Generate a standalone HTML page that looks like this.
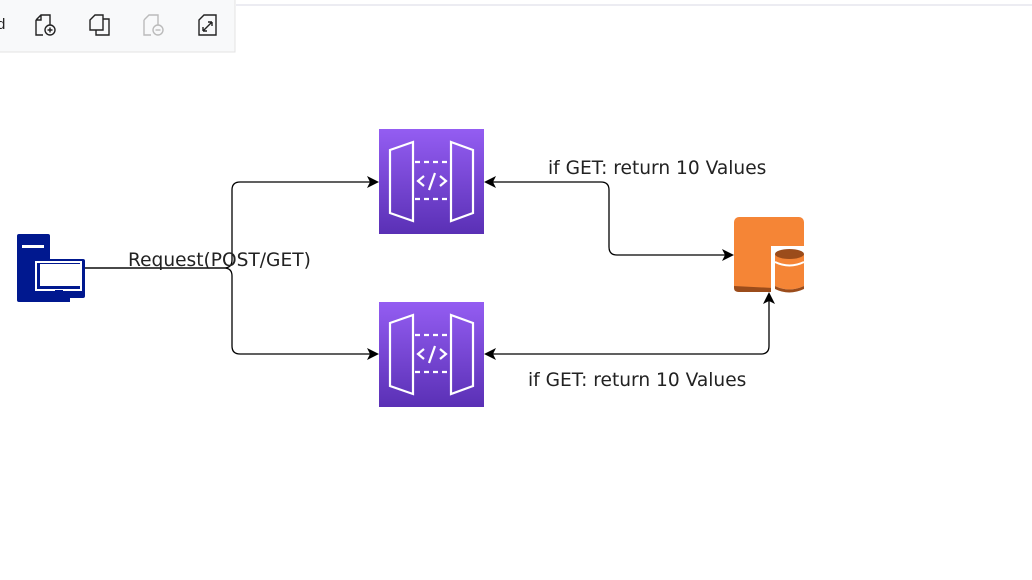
<!DOCTYPE html>
<html><head><style>
body{margin:0;width:1032px;height:580px;overflow:hidden;background:#fff;font-family:"Liberation Sans",sans-serif;}
</style></head><body>
<svg width="1032" height="580" xmlns="http://www.w3.org/2000/svg" style="position:absolute;left:0;top:0">
<defs>
<linearGradient id="pg" x1="0" y1="0" x2="0" y2="1"><stop offset="0" stop-color="#945df2"/><stop offset="1" stop-color="#5a30b5"/></linearGradient>
</defs>
<!-- toolbar -->
<rect x="-1" y="-1" width="236" height="53" fill="#f8f9fa" stroke="#e3e3e3"/>
<line x1="236" y1="5" x2="1032" y2="5" stroke="#d8d8e4"/>
<text x="-3" y="29" font-size="15" fill="#222">d</text>
<g fill="none" stroke="#222" stroke-width="1.4">
<path d="M36,20 L41,15 H50 V25 M36,20 V35 H43 M36,20 H41 V15"/><circle cx="50" cy="30" r="5"/><path d="M50,27.5 V32.5 M47.5,30 H52.5"/>
<path d="M90,20 L95,15 H103 V30 H90 Z M103,19 H109 V35 H96 V30"/>
<path d="M199,20 L204,15 H216 V35 H199 Z M203,31 L212,22 M203,31 H207 M203,31 V27 M212,22 H208 M212,22 V26"/>
</g>
<g fill="none" stroke="#bbb" stroke-width="1.4"><path d="M144,20 L149,15 H158 V25 M144,20 V35 H151"/><circle cx="158" cy="30" r="5"/><path d="M155.5,30 H160.5"/></g>
<!-- connectors -->
<g fill="none" stroke="#000" stroke-width="1.3">
<path d="M85,268 H224 Q232,268 232,260 V190 Q232,182 240,182 H372"/>
<path d="M85,268 H224 Q232,268 232,276 V346 Q232,354 240,354 H372"/>
<path d="M727,255 H617 Q609,255 609,247 V190 Q609,182 601,182 H491"/>
<path d="M769,299 V346 Q769,354 761,354 H491"/>
</g>
<g fill="#000">
<path d="M379,182 L367,176 L370,182 L367,188 Z"/>
<path d="M379,354 L367,348 L370,354 L367,360 Z"/>
<path d="M484,182 L496,176 L493,182 L496,188 Z"/>
<path d="M484,354 L496,348 L493,354 L496,360 Z"/>
<path d="M734,255 L722,249 L725,255 L722,261 Z"/>
<path d="M769,292 L763,304 L769,301 L775,304 Z"/>
</g>
<!-- API gateways -->
<g id="api">
<rect x="379" y="129" width="105" height="105" fill="url(#pg)"/>
<g fill="none" stroke="#fff" stroke-width="2.2">
<path d="M390,150 L413,142 V221 L390,213 Z"/><path d="M451,142 L473,150 V213 L451,221 Z"/>
<path d="M415,162 H450 M415,199 H450" stroke-dasharray="5,4"/>
<path d="M424,176 L418,181 L424,186 M440,176 L446,181 L440,186 M435,173 L429,190"/>
</g></g>
<use href="#api" transform="translate(0,173)"/>
<!-- computer -->
<g fill="#00188f">
<rect x="17" y="234" width="33" height="68" rx="2"/>
<rect x="34" y="259" width="51" height="39" rx="2"/>
</g>
<rect x="22" y="245" width="22" height="3" fill="#fff"/>
<rect x="36" y="262" width="45" height="28" fill="#00188f" stroke="#fff" stroke-width="2"/>
<rect x="40" y="264" width="40" height="22" fill="#fff"/>
<path d="M55,290 H63 V295 H70 V302 H48 V295 H55 Z" fill="#00188f"/>
<!-- orange storage -->
<rect x="734" y="217" width="70" height="75" rx="5" fill="#f58536"/>
<path d="M734,286 V288 Q734,292 739,292 H773 V288 Z" fill="#9b4c1b"/>
<rect x="771" y="246" width="34" height="48" fill="#fff"/>
<path d="M775,254 V286 Q789,293 804,286 V254 Z" fill="#f58536"/>
<ellipse cx="789.5" cy="254" rx="14.5" ry="5" fill="#9b4c1b"/>
<path d="M775,262 Q789.5,269 804,262" stroke="#fff" stroke-width="2" fill="none"/>
<path d="M775,286 Q789,293 804,286 V289 Q789,296 775,289 Z" fill="#9b4c1b"/>
<!-- labels -->
<g font-family="'DejaVu Sans','Liberation Sans',sans-serif" font-size="18.6" fill="#222">
<text x="128" y="266">Request(POST/GET)</text>
<text x="548" y="174">if GET: return 10 Values</text>
<text x="528" y="386">if GET: return 10 Values</text>
</g>
</svg>
</body></html>
